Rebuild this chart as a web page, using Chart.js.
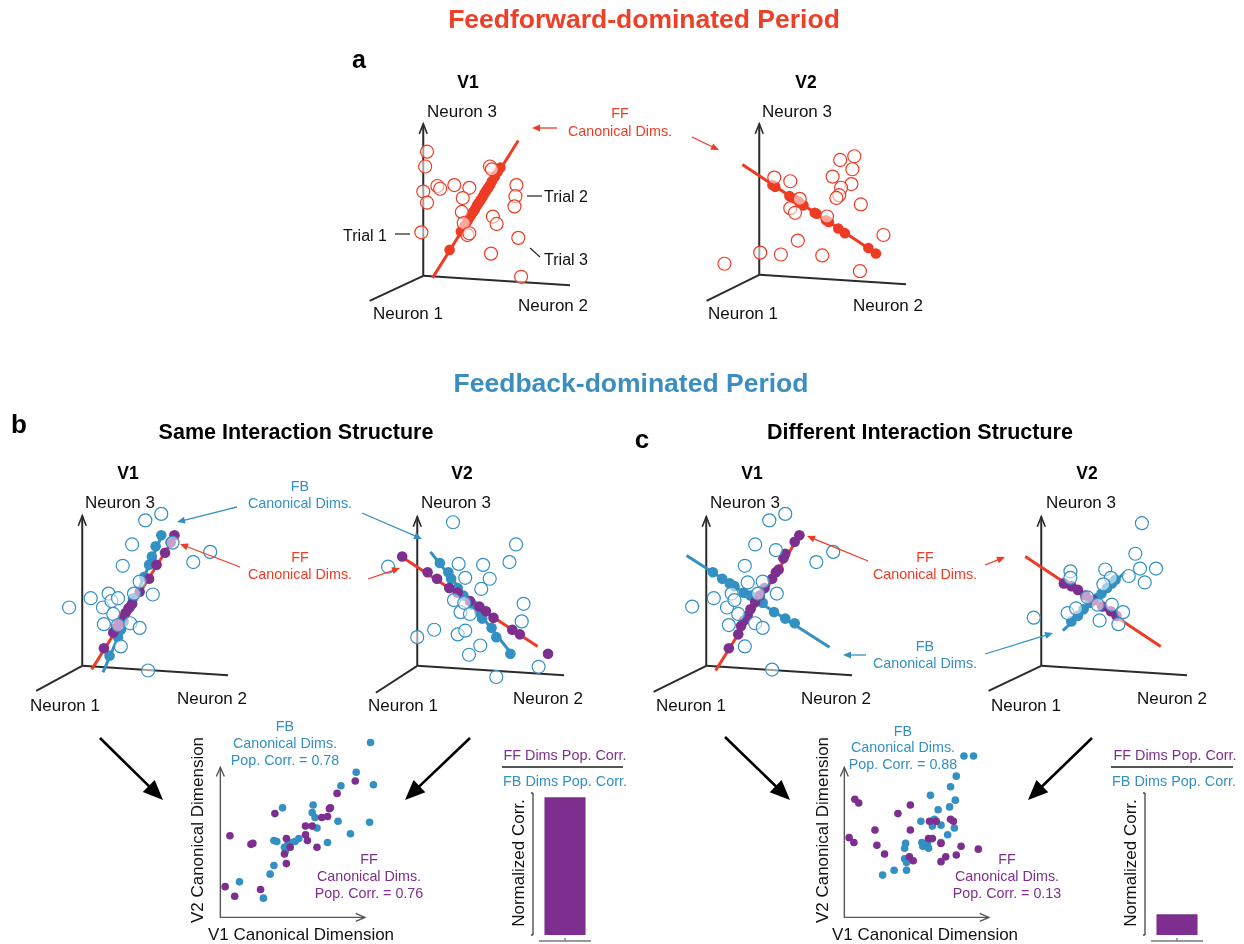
<!DOCTYPE html>
<html>
<head>
<meta charset="utf-8">
<script src="https://cdn.jsdelivr.net/npm/chart.js@4"></script>
<style>
  body { margin: 0; background: #fff; }
  #fig { position: relative; width: 1244px; height: 944px; overflow: hidden;
         font-family: "Liberation Sans", Arial, Helvetica, sans-serif; }
  #fig canvas { position: absolute; }
  #fig svg { position: absolute; left: 0; top: 0; }
  .t { position: absolute; white-space: nowrap; line-height: 1; transform: translate(-50%, -50%); }
</style>
</head>
<body>
<div id="fig"></div>
<script>
// colours
const RED = '#ee3b24';
const BLUE = '#3390c3';
const PURPLE = '#7d2e8e';
const AXIS = '#2b2b2b';

// ---- panel a : feedforward period (local units, origin = corner of 3D axes) ----
const aV1Trials = [[4,134],[2,118],[0,91],[4,79],[-2,47],[15,97],[18,94],[33,98],[49,95],[42,84],[41,69],[43,57],[47,44],[49,46],[71,118],[73,115],[74,64],[78,56],[72,24],[99,98],[98,86],[97,75],[101,41],[104,-1]];
const aV1FFLine = [[10,-2],[101,146]];
const aV1FFProj = [[28,28],[40,48],[44,54],[47,59],[49,63],[51,66],[53,69],[55,72],[57,76],[59,79],[61,82],[63,85],[65,89],[67,92],[69,95],[71,98],[73,102],[76,107],[79,112],[82,117]];

const aV2Trials = [[-37,12],[1,24],[23,22],[41,37],[67,21],[107,4],[132,43],[108,76],[86,124],[101,128],[99,114],[78,106],[98,98],[87,94],[85,86],[82,83],[33,101],[16,105],[43,82],[33,72],[38,67],[72,63]];
const aV2FFLine = [[-18,119],[126,22]];
const aV2FFProj = [[14,97],[17,95],[32,85],[37,82],[42,79],[47,75],[59,67],[61,66],[71,59],[74,57],[84,50],[91,45],[116,29],[124,23]];

// ---- panel b : same interaction structure ----
const bV1Trials = [[-14,63],[9,73],[22,63],[28,78],[31,70],[38,73],[33,56],[23,45],[38,44],[41,21],[51,46],[61,41],[43,108],[53,131],[61,91],[75,77],[67,157],[84,164],[136,123],[118,112],[70,-5],[96,133],[55,78]];
const bV1FFLine = [[10,-4],[100,142]];
const bV1FBLine = [[22,-7],[86,144]];
const bV1FFProj = [[23,19],[33,36],[36,41],[39,46],[43,52],[46,57],[49,62],[53,67],[61,80],[71,94],[79,109],[88,122],[94,133],[98,141]];
const bV1FBProj = [[29,11],[38,31],[41,39],[44,48],[51,64],[54,73],[66,96],[71,109],[74,118],[78,129],[84,141]];

const bV2Trials = [[38,155],[105,131],[98,112],[70,109],[44,110],[51,95],[77,94],[68,83],[-31,107],[39,71],[46,58],[56,56],[50,68],[113,67],[111,48],[18,39],[0,31],[43,34],[51,38],[67,22],[55,12],[129,-1],[84,-12]];
const bV2FFLine = [[-17,118],[128,21]];
const bV2FBLine = [[14,123],[101,12]];
const bV2FFProj = [[-16,118],[11,101],[21,94],[34,84],[43,79],[56,70],[66,64],[73,59],[81,52],[101,39],[109,34],[139,13]];
const bV2FBProj = [[24,111],[33,101],[36,94],[43,84],[49,76],[59,66],[66,58],[69,51],[79,41],[84,31],[99,13]];

// ---- panel c : different interaction structure ----
const cV1Trials = [[84,164],[67,157],[52,131],[74,125],[41,108],[117,112],[135,123],[-15,64],[8,73],[22,63],[27,78],[44,90],[60,91],[75,78],[55,78],[34,56],[24,44],[52,46],[60,41],[41,21],[70,-4],[30,71]];
const cV1FFLine = [[10,-5],[100,142]];
const cV1FBLine = [[-21,119],[131,20]];
const cV1FFProj = [[24,19],[34,34],[37,43],[40,49],[44,54],[47,61],[52,69],[57,76],[62,84],[70,94],[74,101],[77,104],[82,116],[84,121],[94,134],[99,141]];
const cV1FBProj = [[7,101],[17,94],[25,89],[30,86],[40,79],[47,76],[55,71],[60,68],[72,58],[84,51],[94,46]];

const cV2Trials = [[107,154],[100,121],[105,105],[122,105],[110,90],[93,97],[68,104],[74,95],[66,88],[31,102],[31,95],[-8,52],[28,57],[37,62],[49,74],[60,66],[75,66],[87,58],[62,49],[82,45]];
const cV2FFLine = [[-17,118],[127,21]];
const cV2FBLine = [[23,38],[89,101]];
const cV2FFProj = [[24,89],[32,86],[39,82],[47,76],[55,71],[65,64],[74,59],[80,54]];
const cV2FBProj = [[32,48],[39,54],[45,61],[52,68],[59,73],[64,78],[70,84],[75,89],[79,93]];

// ---- canonical dimension scatter (V1 dim vs V2 dim) ----
const bCorrFB = [[157,182],[142,151],[126,137],[160,138],[65,114],[97,117],[96,109],[99,104],[123,100],[156,99],[101,93],[136,87],[56,80],[59,79],[73,78],[70,75],[67,73],[78,79],[82,82],[112,78],[68,69],[56,54],[52,45],[20,37],[45,20]];
const bCorrFF = [[141,142],[122,129],[57,108],[114,113],[115,114],[106,104],[112,105],[89,95],[96,95],[10,85],[32,76],[34,77],[69,82],[89,86],[91,80],[101,73],[67,66],[69,56],[5,32],[15,22],[42,29],[73,73]];
const cCorrFB = [[125,168],[135,168],[117,147],[111,136],[116,122],[110,115],[90,127],[98,112],[94,102],[80,100],[92,95],[101,96],[115,93],[108,86],[101,78],[64,77],[63,72],[81,78],[87,77],[82,74],[88,72],[63,61],[65,57],[65,49],[52,49],[40,44]];
const cCorrFF = [[11,123],[15,119],[69,117],[56,108],[89,100],[96,100],[111,102],[114,100],[32,91],[69,91],[5,83],[10,78],[34,75],[88,82],[92,82],[101,77],[122,74],[140,71],[117,65],[106,63],[101,58],[42,66],[68,63],[72,59]];

// ---- normalized correlation bars ----
const barLabels = ['FF / FB'];
const bRatio = [1.0];
const cRatio = [0.15];

// ---------------------------------------------------------------
Chart.defaults.font.family = '"Liberation Sans", Arial, sans-serif';
const fig = document.getElementById('fig');
const pts = a => a.map(p => ({x: p[0], y: p[1]}));

function addCanvas(left, top, w, h) {
  const c = document.createElement('canvas');
  c.width = w; c.height = h;
  c.style.left = left + 'px'; c.style.top = top + 'px';
  c.style.width = w + 'px'; c.style.height = h + 'px';
  fig.appendChild(c);
  return c;
}

function baseOpts(xr, yr) {
  return {
    responsive: false, animation: false, devicePixelRatio: 1, events: [],
    layout: {padding: 0},
    plugins: {legend: {display: false}, tooltip: {enabled: false}},
    scales: {
      x: {type: 'linear', min: xr[0], max: xr[1], display: false},
      y: {type: 'linear', min: yr[0], max: yr[1], display: false}
    }
  };
}

// draws the three neuron axes of a 3D panel
function axes3d(ends) {
  return {
    id: 'axes3d',
    beforeDatasetsDraw(chart) {
      const {ctx, scales: {x, y}} = chart;
      const px = p => [x.getPixelForValue(p[0]), y.getPixelForValue(p[1])];
      const o = px([0, 0]);
      ctx.save();
      ctx.strokeStyle = AXIS; ctx.lineWidth = 2;
      ends.forEach(e => {
        const p = px(e);
        ctx.beginPath(); ctx.moveTo(o[0], o[1]); ctx.lineTo(p[0], p[1]); ctx.stroke();
      });
      const t = px(ends[2]);
      ctx.lineWidth = 1.6;
      ctx.beginPath(); ctx.moveTo(t[0] - 4, t[1] + 10); ctx.lineTo(t[0], t[1]); ctx.lineTo(t[0] + 4, t[1] + 10); ctx.stroke();
      ctx.restore();
    }
  };
}

function make3d(origin, ends, trialColor, trials, lines, projs) {
  const [ox, oy] = origin;
  const cv = addCanvas(ox - 75, oy - 175, 260, 210);
  const datasets = [{
    data: pts(trials), order: 0, pointRadius: 6.5, pointBorderWidth: 1.2,
    pointBorderColor: trialColor, pointBackgroundColor: 'rgba(255,255,255,0.55)'
  }];
  projs.forEach((p, i) => datasets.push({
    data: pts(p[0]), order: 1 + i, pointRadius: 5.3, pointBorderWidth: 0,
    pointBackgroundColor: p[1], pointBorderColor: p[1]
  }));
  lines.forEach((l, i) => datasets.push({
    data: pts(l[0]), order: 10 + i, showLine: true, borderColor: l[1],
    borderWidth: 3, pointRadius: 0
  }));
  new Chart(cv, {
    type: 'scatter',
    data: {datasets: datasets},
    options: baseOpts([-75, 185], [-35, 175]),
    plugins: [axes3d(ends)]
  });
}

// V1 / V2 panels
make3d([420, 281], [[-57,-27],[156,-10],[0,164]], RED, aV1Trials,
  [[aV1FFLine, RED]], [[aV1FFProj, RED]]);
make3d([756, 280], [[-56,-28],[156,-10],[0,163]], RED, aV2Trials,
  [[aV2FFLine, RED]], [[aV2FFProj, RED]]);
make3d([79, 671], [[-49,-27],[155,-10],[0,162]], BLUE, bV1Trials,
  [[bV1FBLine, BLUE], [bV1FFLine, RED]], [[bV1FFProj, PURPLE], [bV1FBProj, BLUE]]);
make3d([414, 671], [[-44,-29],[156,-10],[0,161]], BLUE, bV2Trials,
  [[bV2FBLine, BLUE], [bV2FFLine, RED]], [[bV2FFProj, PURPLE], [bV2FBProj, BLUE]]);
make3d([703, 671], [[-56,-28],[155,-10],[0,161]], BLUE, cV1Trials,
  [[cV1FBLine, BLUE], [cV1FFLine, RED]], [[cV1FFProj, PURPLE], [cV1FBProj, BLUE]]);
make3d([1038, 671], [[-56,-27],[155,-10],[0,161]], BLUE, cV2Trials,
  [[cV2FBLine, BLUE], [cV2FFLine, RED]], [[cV2FFProj, PURPLE], [cV2FBProj, BLUE]]);

// 2D axes with open arrow heads
function axes2d(xEnd, yEnd) {
  return {
    id: 'axes2d',
    beforeDatasetsDraw(chart) {
      const {ctx, scales: {x, y}} = chart;
      const ox = x.getPixelForValue(0), oy = y.getPixelForValue(0);
      const xe = x.getPixelForValue(xEnd), ye = y.getPixelForValue(yEnd);
      ctx.save();
      ctx.strokeStyle = '#555'; ctx.lineWidth = 1.4;
      ctx.beginPath(); ctx.moveTo(ox, ye); ctx.lineTo(ox, oy); ctx.lineTo(xe, oy); ctx.stroke();
      ctx.beginPath(); ctx.moveTo(ox - 4, ye + 9); ctx.lineTo(ox, ye); ctx.lineTo(ox + 4, ye + 9); ctx.stroke();
      ctx.beginPath(); ctx.moveTo(xe - 9, oy - 4); ctx.lineTo(xe, oy); ctx.lineTo(xe - 9, oy + 4); ctx.stroke();
      ctx.restore();
    }
  };
}

function makeCorr(origin, fb, ff) {
  const [ox, oy] = origin;
  const cv = addCanvas(ox - 15, oy - 195, 185, 205);
  new Chart(cv, {
    type: 'scatter',
    data: {datasets: [
      {data: pts(ff), pointRadius: 3.8, pointBorderWidth: 0, pointBackgroundColor: PURPLE},
      {data: pts(fb), pointRadius: 3.8, pointBorderWidth: 0, pointBackgroundColor: BLUE}
    ]},
    options: baseOpts([-15, 170], [-10, 195]),
    plugins: [axes2d(151, 156)]
  });
}
makeCorr([217, 921], bCorrFB, bCorrFF);
makeCorr([841, 921], cCorrFB, cCorrFF);

// offset axes of the bar panels
const barAxes = {
  id: 'barAxes',
  afterDraw(chart) {
    const {ctx, chartArea: a} = chart;
    ctx.save();
    ctx.strokeStyle = '#444'; ctx.lineWidth = 1.3;
    const vx = a.left - 6, hy = a.bottom + 6;
    ctx.beginPath(); ctx.moveTo(vx, a.top); ctx.lineTo(vx, a.bottom); ctx.stroke();
    ctx.beginPath(); ctx.moveTo(vx - 2, a.top); ctx.lineTo(vx, a.top); ctx.moveTo(vx - 2, a.bottom); ctx.lineTo(vx, a.bottom); ctx.stroke();
    ctx.strokeStyle = '#777';
    ctx.beginPath(); ctx.moveTo(a.left, hy); ctx.lineTo(a.right, hy); ctx.stroke();
    const mx = (a.left + a.right) / 2;
    ctx.beginPath(); ctx.moveTo(mx, hy); ctx.lineTo(mx, hy - 3); ctx.stroke();
    ctx.restore();
  }
};

function makeBar(left, values) {
  const cv = addCanvas(left, 783, 100, 161);
  const opts = baseOpts([0, 1], [0, 1.03]);
  opts.layout.padding = {left: 29, right: 19, top: 10, bottom: 9};
  opts.scales = {x: {display: false}, y: {display: false, min: 0, max: 1.03}};
  new Chart(cv, {
    type: 'bar',
    data: {labels: barLabels, datasets: [{data: values, backgroundColor: PURPLE,
      barPercentage: 0.79, categoryPercentage: 1}]},
    options: opts,
    plugins: [barAxes]
  });
}
makeBar(510, bRatio);
makeBar(1122, cRatio);

// ---- annotation arrows ----
const svgNS = 'http://www.w3.org/2000/svg';
const svg = document.createElementNS(svgNS, 'svg');
svg.setAttribute('width', 1244); svg.setAttribute('height', 944);
fig.appendChild(svg);
function el(name, attrs) {
  const e = document.createElementNS(svgNS, name);
  for (const k in attrs) e.setAttribute(k, attrs[k]);
  svg.appendChild(e);
}
function seg(x1, y1, x2, y2, color, w) {
  el('line', {x1: x1, y1: y1, x2: x2, y2: y2, stroke: color, 'stroke-width': w});
}
function arrow(x1, y1, x2, y2, color, w, hl, hw) {
  const ang = Math.atan2(y2 - y1, x2 - x1);
  const c = Math.cos(ang), s = Math.sin(ang);
  const bx = x2 - hl * c, by = y2 - hl * s;
  seg(x1, y1, bx + c, by + s, color, w);
  el('polygon', {fill: color, points:
    x2 + ',' + y2 + ' ' + (bx + hw * s) + ',' + (by - hw * c) + ' ' + (bx - hw * s) + ',' + (by + hw * c)});
}
// panel a
arrow(557, 128, 532, 128, RED, 1.3, 8, 3.5);
arrow(692, 137, 719, 150, RED, 1.3, 8, 3.5);
seg(395, 234, 410, 234, '#222', 1.2);
seg(527, 196, 542, 196, '#222', 1.2);
seg(530, 248, 540, 257, '#222', 1.2);
// panel b
arrow(237, 507, 177, 522, BLUE, 1.3, 8, 3.5);
arrow(362, 513, 422, 539, BLUE, 1.3, 8, 3.5);
arrow(240, 567, 180, 544, RED, 1.3, 8, 3.5);
arrow(368, 579, 400, 568, RED, 1.3, 8, 3.5);
// panel c
arrow(868, 561, 807, 536, RED, 1.3, 8, 3.5);
arrow(985, 565, 1005, 557, RED, 1.3, 8, 3.5);
arrow(866, 655, 843, 655, BLUE, 1.3, 8, 3.5);
arrow(985, 654, 1053, 633, BLUE, 1.3, 8, 3.5);
// big arrows into the scatter plots
arrow(100, 738, 163, 800, '#000', 2.6, 20, 8.5);
arrow(470, 738, 405, 800, '#000', 2.6, 20, 8.5);
arrow(725, 737, 790, 800, '#000', 2.6, 20, 8.5);
arrow(1092, 738, 1028, 800, '#000', 2.6, 20, 8.5);
// ratio lines
seg(502, 767, 623, 767, '#555', 2);
seg(1111, 767, 1233, 767, '#555', 2);

// ---- text ----
function txt(s, x, y, size, color, bold, rot) {
  const d = document.createElement('div');
  d.className = 't';
  d.textContent = s;
  d.style.left = x + 'px'; d.style.top = y + 'px';
  d.style.fontSize = size + 'px';
  d.style.color = color || '#111';
  if (bold) d.style.fontWeight = 'bold';
  if (rot) d.style.transform = 'translate(-50%, -50%) rotate(-90deg)';
  fig.appendChild(d);
}
txt('Feedforward-dominated Period', 644, 19, 26.5, '#ee4028', true);
txt('a', 359, 59, 25, '#000', true);
txt('V1', 468, 83, 17.5, '#000', true);
txt('V2', 806, 83, 17.5, '#000', true);
txt('Neuron 3', 462, 111, 17);
txt('Neuron 3', 797, 111, 17);
txt('FF', 620, 113, 14.3, RED);
txt('Canonical Dims.', 620, 131, 14.3, RED);
txt('Trial 1', 365, 236, 16);
txt('Trial 2', 566, 197, 16);
txt('Trial 3', 566, 260, 16);
txt('Neuron 1', 408, 313, 17);
txt('Neuron 2', 553, 305, 17);
txt('Neuron 1', 743, 313, 17);
txt('Neuron 2', 888, 305, 17);

txt('Feedback-dominated Period', 631, 383, 26.5, '#3a8ec1', true);
txt('b', 19, 424, 26, '#000', true);
txt('Same Interaction Structure', 296, 433, 21.5, '#000', true);
txt('c', 642, 439, 26, '#000', true);
txt('Different Interaction Structure', 920, 433, 21.5, '#000', true);
txt('V1', 128, 474, 17.5, '#000', true);
txt('V2', 462, 474, 17.5, '#000', true);
txt('V1', 752, 474, 17.5, '#000', true);
txt('V2', 1087, 474, 17.5, '#000', true);
[120, 456, 745, 1081].forEach(x => txt('Neuron 3', x, 502, 17));
[65, 403, 691, 1026].forEach(x => txt('Neuron 1', x, 705, 17));
[212, 548, 836, 1172].forEach(x => txt('Neuron 2', x, 698, 17));
txt('FB', 300, 486, 14.3, BLUE);
txt('Canonical Dims.', 300, 503, 14.3, BLUE);
txt('FF', 300, 557, 14.3, RED);
txt('Canonical Dims.', 300, 574, 14.3, RED);
txt('FF', 925, 557, 14.3, RED);
txt('Canonical Dims.', 925, 574, 14.3, RED);
txt('FB', 925, 646, 14.3, BLUE);
txt('Canonical Dims.', 925, 663, 14.3, BLUE);

txt('FB', 285, 726, 14.3, BLUE);
txt('Canonical Dims.', 285, 743, 14.3, BLUE);
txt('Pop. Corr. = 0.78', 285, 760, 14.3, BLUE);
txt('FF', 369, 859, 14.3, PURPLE);
txt('Canonical Dims.', 369, 876, 14.3, PURPLE);
txt('Pop. Corr. = 0.76', 369, 893, 14.3, PURPLE);
txt('V1 Canonical Dimension', 301, 934, 17);
txt('V2 Canonical Dimension', 197, 830, 17, null, false, true);

txt('FB', 903, 731, 14.3, BLUE);
txt('Canonical Dims.', 903, 747, 14.3, BLUE);
txt('Pop. Corr. = 0.88', 903, 764, 14.3, BLUE);
txt('FF', 1007, 859, 14.3, PURPLE);
txt('Canonical Dims.', 1007, 876, 14.3, PURPLE);
txt('Pop. Corr. = 0.13', 1007, 893, 14.3, PURPLE);
txt('V1 Canonical Dimension', 925, 934, 17);
txt('V2 Canonical Dimension', 822, 830, 17, null, false, true);

txt('FF Dims Pop. Corr.', 565, 755, 14.4, PURPLE);
txt('FB Dims Pop. Corr.', 565, 781, 14.4, BLUE);
txt('Normalized Corr.', 518, 863, 17, null, false, true);
txt('FF Dims Pop. Corr.', 1175, 755, 14.4, PURPLE);
txt('FB Dims Pop. Corr.', 1174, 781, 14.4, BLUE);
txt('Normalized Corr.', 1130, 863, 17, null, false, true);
</script>
</body>
</html>
